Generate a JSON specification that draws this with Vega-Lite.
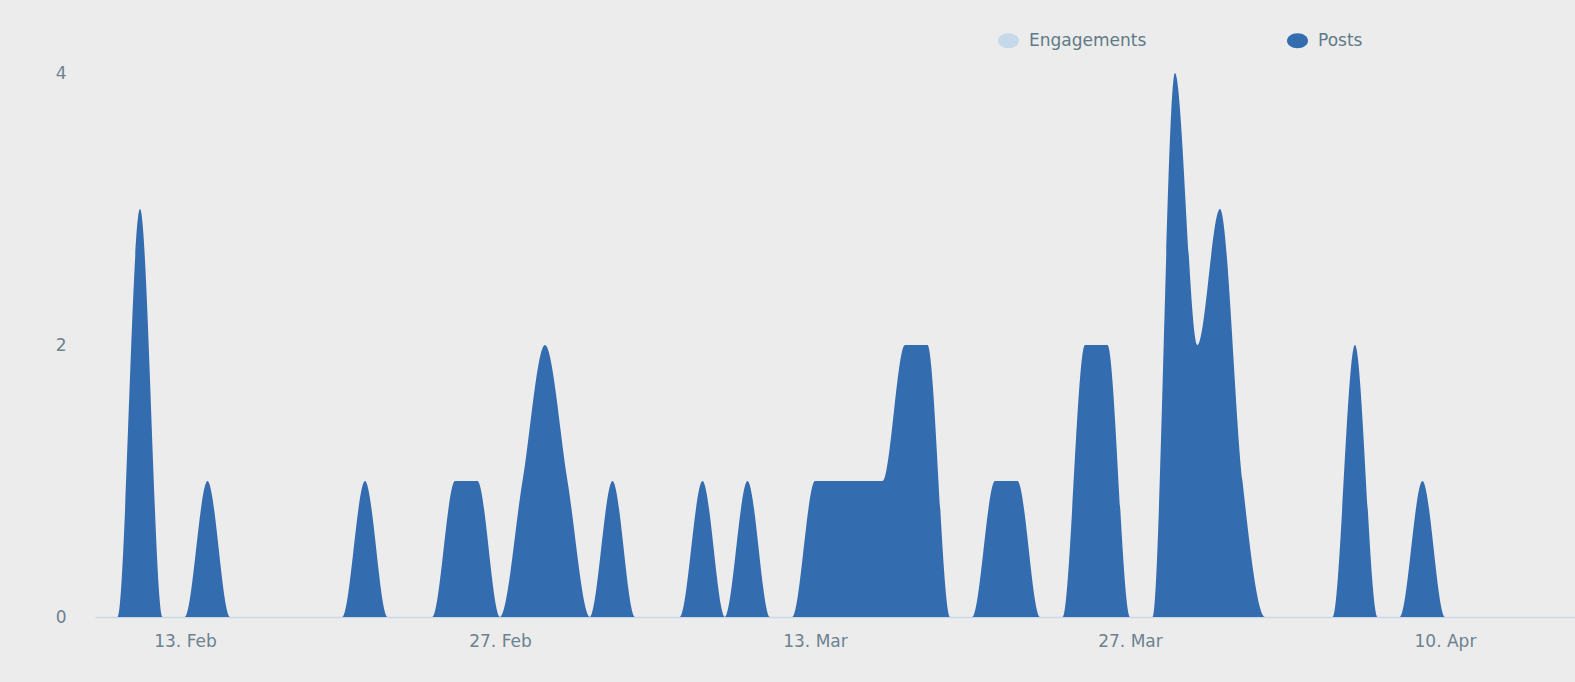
{
  "$schema": "https://vega.github.io/schema/vega-lite/v6.json",
  "width": 1480,
  "height": 544,
  "autosize": "none",
  "padding": {"left": 95, "top": 73, "right": 0, "bottom": 65},
  "background": "#ececec",
  "config": {"view": {"stroke": null}, "font": "DejaVu Sans"},
  "data": {"values": [
    {"date": "2017-02-09", "series": "Posts", "count": 0},
    {"date": "2017-02-10", "series": "Posts", "count": 0},
    {"date": "2017-02-11", "series": "Posts", "count": 3},
    {"date": "2017-02-12", "series": "Posts", "count": 0},
    {"date": "2017-02-13", "series": "Posts", "count": 0},
    {"date": "2017-02-14", "series": "Posts", "count": 1},
    {"date": "2017-02-15", "series": "Posts", "count": 0},
    {"date": "2017-02-16", "series": "Posts", "count": 0},
    {"date": "2017-02-17", "series": "Posts", "count": 0},
    {"date": "2017-02-18", "series": "Posts", "count": 0},
    {"date": "2017-02-19", "series": "Posts", "count": 0},
    {"date": "2017-02-20", "series": "Posts", "count": 0},
    {"date": "2017-02-21", "series": "Posts", "count": 1},
    {"date": "2017-02-22", "series": "Posts", "count": 0},
    {"date": "2017-02-23", "series": "Posts", "count": 0},
    {"date": "2017-02-24", "series": "Posts", "count": 0},
    {"date": "2017-02-25", "series": "Posts", "count": 1},
    {"date": "2017-02-26", "series": "Posts", "count": 1},
    {"date": "2017-02-27", "series": "Posts", "count": 0},
    {"date": "2017-02-28", "series": "Posts", "count": 1},
    {"date": "2017-03-01", "series": "Posts", "count": 2},
    {"date": "2017-03-02", "series": "Posts", "count": 1},
    {"date": "2017-03-03", "series": "Posts", "count": 0},
    {"date": "2017-03-04", "series": "Posts", "count": 1},
    {"date": "2017-03-05", "series": "Posts", "count": 0},
    {"date": "2017-03-06", "series": "Posts", "count": 0},
    {"date": "2017-03-07", "series": "Posts", "count": 0},
    {"date": "2017-03-08", "series": "Posts", "count": 1},
    {"date": "2017-03-09", "series": "Posts", "count": 0},
    {"date": "2017-03-10", "series": "Posts", "count": 1},
    {"date": "2017-03-11", "series": "Posts", "count": 0},
    {"date": "2017-03-12", "series": "Posts", "count": 0},
    {"date": "2017-03-13", "series": "Posts", "count": 1},
    {"date": "2017-03-14", "series": "Posts", "count": 1},
    {"date": "2017-03-15", "series": "Posts", "count": 1},
    {"date": "2017-03-16", "series": "Posts", "count": 1},
    {"date": "2017-03-17", "series": "Posts", "count": 2},
    {"date": "2017-03-18", "series": "Posts", "count": 2},
    {"date": "2017-03-19", "series": "Posts", "count": 0},
    {"date": "2017-03-20", "series": "Posts", "count": 0},
    {"date": "2017-03-21", "series": "Posts", "count": 1},
    {"date": "2017-03-22", "series": "Posts", "count": 1},
    {"date": "2017-03-23", "series": "Posts", "count": 0},
    {"date": "2017-03-24", "series": "Posts", "count": 0},
    {"date": "2017-03-25", "series": "Posts", "count": 2},
    {"date": "2017-03-26", "series": "Posts", "count": 2},
    {"date": "2017-03-27", "series": "Posts", "count": 0},
    {"date": "2017-03-28", "series": "Posts", "count": 0},
    {"date": "2017-03-29", "series": "Posts", "count": 4},
    {"date": "2017-03-30", "series": "Posts", "count": 2},
    {"date": "2017-03-31", "series": "Posts", "count": 3},
    {"date": "2017-04-01", "series": "Posts", "count": 1},
    {"date": "2017-04-02", "series": "Posts", "count": 0},
    {"date": "2017-04-03", "series": "Posts", "count": 0},
    {"date": "2017-04-04", "series": "Posts", "count": 0},
    {"date": "2017-04-05", "series": "Posts", "count": 0},
    {"date": "2017-04-06", "series": "Posts", "count": 2},
    {"date": "2017-04-07", "series": "Posts", "count": 0},
    {"date": "2017-04-08", "series": "Posts", "count": 0},
    {"date": "2017-04-09", "series": "Posts", "count": 1},
    {"date": "2017-04-10", "series": "Posts", "count": 0},
    {"date": "2017-04-11", "series": "Posts", "count": 0},
    {"date": "2017-04-12", "series": "Posts", "count": 0},
    {"date": "2017-04-13", "series": "Posts", "count": 0},
    {"date": "2017-04-14", "series": "Posts", "count": 0},
    {"date": "2017-04-15", "series": "Posts", "count": 0}
  ]},
  "mark": {"type": "area", "interpolate": "monotone", "opacity": 1},
  "encoding": {
    "x": {
      "field": "date",
      "type": "temporal",
      "scale": {
        "type": "utc",
        "domain": [
          {"year": 2017, "month": 2, "date": 9, "utc": true},
          {"year": 2017, "month": 4, "date": 15, "hours": 18, "minutes": 43, "utc": true}
        ]
      },
      "axis": {
        "title": null,
        "format": "%-d. %b",
        "values": [
          {"year": 2017, "month": 2, "date": 13, "utc": true},
          {"year": 2017, "month": 2, "date": 27, "utc": true},
          {"year": 2017, "month": 3, "date": 13, "utc": true},
          {"year": 2017, "month": 3, "date": 27, "utc": true},
          {"year": 2017, "month": 4, "date": 10, "utc": true}
        ],
        "grid": false,
        "ticks": false,
        "domainColor": "#c9d8e6",
        "domainWidth": 1.5,
        "labelColor": "#6b8290",
        "labelFontSize": 17,
        "labelPadding": 16
      }
    },
    "y": {
      "field": "count",
      "type": "quantitative",
      "stack": null,
      "scale": {"domain": [0, 4], "nice": false},
      "axis": {
        "title": null,
        "values": [0, 2, 4],
        "grid": false,
        "ticks": false,
        "domain": false,
        "labelColor": "#6b8290",
        "labelFontSize": 17,
        "labelPadding": 29
      }
    },
    "color": {
      "field": "series",
      "type": "nominal",
      "scale": {"domain": ["Engagements", "Posts"], "range": ["#c5d9ea", "#346cb0"]},
      "legend": {
        "title": null,
        "orient": "none",
        "direction": "horizontal",
        "legendX": 903,
        "legendY": -43,
        "symbolType": "M -1 0 A 1 0.714 0 1 0 1 0 A 1 0.714 0 1 0 -1 0 Z",
        "symbolSize": 441,
        "symbolOpacity": 1,
        "symbolStrokeWidth": 0,
        "labelFontSize": 17,
        "labelColor": "#5f7a87",
        "labelOffset": 10,
        "columnPadding": 140
      }
    }
  }
}
